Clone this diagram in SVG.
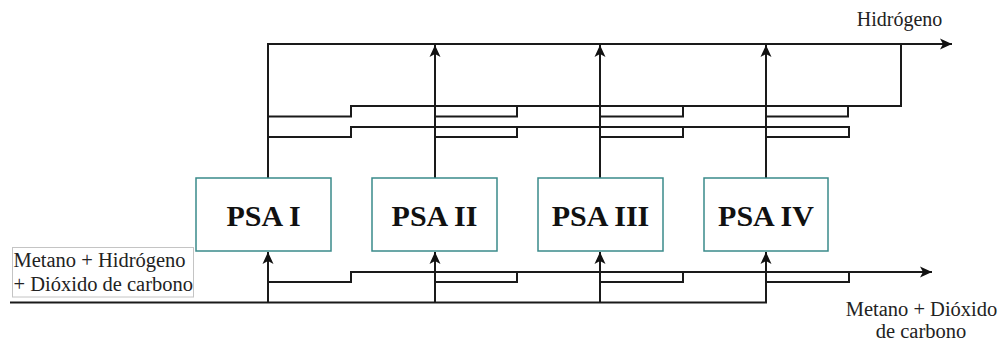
<svg xmlns="http://www.w3.org/2000/svg" width="1002" height="341" viewBox="0 0 1002 341">
  <style>
    .unit rect { fill: #ffffff; stroke: #3a8a8a; stroke-width: 1.5; }
    .unit text { font-family: 'Liberation Serif', 'DejaVu Serif', serif; font-weight: bold; font-size: 30px; fill: #111; text-anchor: middle; }
    .label { font-family: 'Liberation Serif', 'DejaVu Serif', serif; font-size: 20.5px; fill: #222; }
    .wire { fill: none; stroke: #1a1a1a; stroke-width: 2; }
    .flow { marker-end: url(#arrow); }
  </style>
  <defs>
    <marker id="arrow" markerUnits="userSpaceOnUse" markerWidth="14" markerHeight="12" viewBox="0 -6 13 12" refX="12" refY="0" orient="auto">
      <path d="M0,-5.5 L12,0 L0,5.5 L3,0 Z" fill="#111"/>
    </marker>
  </defs>

  <!-- piping between the adsorption units -->
  <g id="connectors">
    <!-- hydrogen header -->
    <path class="wire flow" d="M268,178 V44 H952"/>
    <path class="wire flow" d="M435,178 V45"/>
    <path class="wire flow" d="M600,178 V45"/>
    <path class="wire flow" d="M766,178 V45"/>
    <!-- upper equalisation line -->
    <path class="wire" d="M268,116.5 H351 V106 H901 V44"/>
    <path class="wire" d="M435,116.5 H517 V106 H538"/>
    <path class="wire" d="M600,116.5 H683 V106 H704"/>
    <path class="wire" d="M766,116.5 H848 V106 H870"/>
    <!-- lower equalisation line -->
    <path class="wire" d="M268,137 H351 V127 H849 V137 H766"/>
    <path class="wire" d="M435,137 H517 V127 H538"/>
    <path class="wire" d="M600,137 H683 V127 H704"/>
    <!-- feed header -->
    <path class="wire flow" d="M10,302.5 H766 V252"/>
    <path class="wire flow" d="M268,302.5 V252"/>
    <path class="wire flow" d="M435,302.5 V252"/>
    <path class="wire flow" d="M600,302.5 V252"/>
    <!-- tail gas header -->
    <path class="wire flow" d="M268,282 H351 V272 H932"/>
    <path class="wire" d="M435,282 H517 V272 H538"/>
    <path class="wire" d="M600,282 H683 V272 H704"/>
    <path class="wire" d="M766,282 H849 V272 H870"/>
  </g>

  <g id="psa1" class="unit">
    <rect x="196" y="178" width="135" height="73"/>
    <text x="263.5" y="226">PSA I</text>
  </g>
  <g id="psa2" class="unit">
    <rect x="372" y="178" width="125" height="73"/>
    <text x="434.5" y="226">PSA II</text>
  </g>
  <g id="psa3" class="unit">
    <rect x="538" y="178" width="125" height="73"/>
    <text x="600.5" y="226">PSA III</text>
  </g>
  <g id="psa4" class="unit">
    <rect x="704" y="178" width="124" height="73"/>
    <text x="766" y="226">PSA IV</text>
  </g>

  <g id="feed-label">
    <rect x="12.5" y="247.5" width="181" height="49.5" fill="#ffffff" stroke="#c4c4c4" stroke-width="1"/>
    <text class="label" x="13.5" y="266.5">Metano + Hidrógeno</text>
    <text class="label" x="13.5" y="290.5">+ Dióxido de carbono</text>
  </g>

  <g id="hydrogen-label">
    <text class="label" x="899.5" y="25.5" text-anchor="middle" style="font-size:20px">Hidrógeno</text>
  </g>

  <g id="tailgas-label">
    <text class="label" x="921.5" y="315.5" text-anchor="middle">Metano + Dióxido</text>
    <text class="label" x="921" y="337.5" text-anchor="middle">de carbono</text>
  </g>
</svg>
